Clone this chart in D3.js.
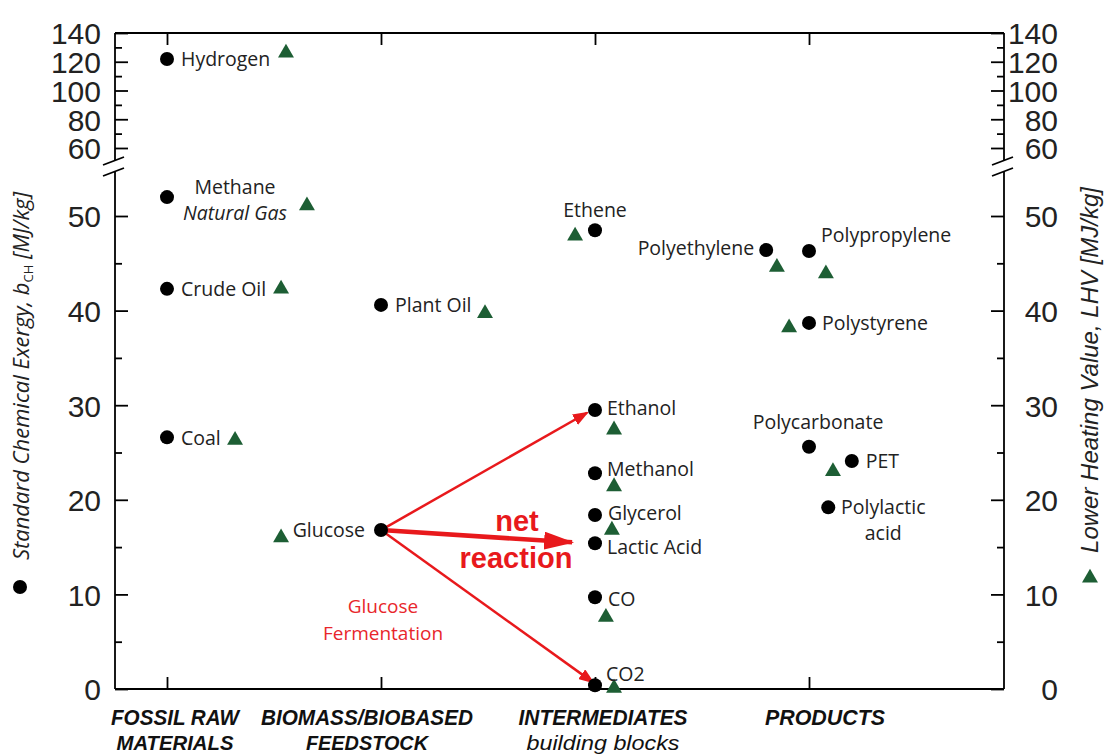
<!DOCTYPE html>
<html><head><meta charset="utf-8">
<script src="https://cdn.jsdelivr.net/npm/d3@7"></script>
<style>body{margin:0;background:#fff}</style>
</head><body><svg id="c" width="1105" height="756"></svg>
<script>
// ---------- data ----------
const catLine1 = ["FOSSIL RAW", "BIOMASS/BIOBASED", "INTERMEDIATES", "PRODUCTS"];
const catLine2 = ["MATERIALS", "FEEDSTOCK", "building blocks", ""];
const catPos = [1, 2, 3, 4];

const names = ["Hydrogen","Methane","Crude Oil","Coal","Glucose","Plant Oil","Ethene","Ethanol","Methanol","Glycerol","Lactic Acid","CO","CO2","Polyethylene","Polypropylene","Polystyrene","Polycarbonate","PET","Polylactic acid"];
const exergyX = [1,1,1,1,2,2,3,3,3,3,3,3,3,3.80,4.0,4.0,4.0,4.20,4.09];
const exergy  = [121.9,52.0,42.3,26.6,16.8,40.6,48.5,29.5,22.8,18.4,15.4,9.7,0.4,46.4,46.3,38.7,25.6,24.1,19.2];
const lhvX = [1.556,1.654,1.533,1.318,1.533,2.486,2.907,3.089,3.089,3.079,null,3.051,3.089,3.850,4.079,3.907,null,4.112,null];
const lhv  = [126.1,51.1,42.3,26.3,16.0,39.7,47.9,27.4,21.4,16.8,null,7.6,0.1,44.6,43.9,38.2,null,23.0,null];

const lowMajor = [0,10,20,30,40,50];
const lowMinor = [5,15,25,35,45];
const highMajor = [60,80,100,120,140];
const highMinor = [70,90,110,130];

// arrows: from Glucose toward products of fermentation
const arrowFrom = [[2,16.8],[2,16.8],[2,16.8]];
const arrowTo   = [[2.963,29.2],[2.893,15.5],[2.991,0.7]];
const arrowBold = [false,true,false];

// ---------- layout ----------
const L = 115, R = 1004, T = 33, B = 689;
const svg = d3.select("#c");
const x = d3.scaleLinear().domain([1 - 52/214, 4 + 195/214]).range([L, R]);
const yLow = d3.scaleLinear().domain([0, 55]).range([B, B - 55*9.46]);
const yHigh = d3.scaleLinear().domain([55, 140]).range([T + 85*1.4375, T]);
const y = v => v <= 55 ? yLow(v) : yHigh(v);

const RED = "#e8191c", GREEN = "#1d5e34", INK = "#000";
const tickFont = "'Liberation Sans', Arial, sans-serif";
const labFont = "'Open Sans', sans-serif";

// ---------- frame ----------
const frame = svg.append("g").attr("stroke", INK).attr("stroke-width", 1.8).attr("fill","none");
frame.append("line").attr("x1", L).attr("x2", R).attr("y1", T).attr("y2", T);
frame.append("line").attr("x1", L).attr("x2", R).attr("y1", B).attr("y2", B);
[L, R].forEach(ax => {
  frame.append("line").attr("x1", ax).attr("x2", ax).attr("y1", T).attr("y2", 160);
  frame.append("line").attr("x1", ax).attr("x2", ax).attr("y1", 171).attr("y2", B);
  [161, 172].forEach(yb => {
    frame.append("line").attr("x1", ax-12).attr("x2", ax+9).attr("y1", yb+4).attr("y2", yb-4);
  });
});

function styleAxis(g, anchor, dx) {
  g.select(".domain").remove();
  g.selectAll(".tick line").attr("stroke", INK).attr("stroke-width", 1.8);
  g.selectAll(".tick text").attr("font-family", tickFont).attr("font-size", 30)
    .attr("fill", "#222").attr("text-anchor", anchor).attr("x", dx).attr("dy", "0.36em");
}
function axisPair(scale, major, minor, side, tx, anchor, dx) {
  const mk = side === "left" ? d3.axisLeft : d3.axisRight;
  svg.append("g").attr("transform", `translate(${tx},0)`)
    .call(mk(scale).tickValues(major).tickSizeInner(-13).tickSizeOuter(0))
    .call(g => styleAxis(g, anchor, dx));
  svg.append("g").attr("transform", `translate(${tx},0)`)
    .call(mk(scale).tickValues(minor).tickSizeInner(-7).tickSizeOuter(0).tickFormat(""))
    .call(g => styleAxis(g, anchor, dx));
}
axisPair(yLow, lowMajor, lowMinor, "left", L, "end", -14);
axisPair(yHigh, highMajor, highMinor, "left", L, "end", -14);
axisPair(yLow, lowMajor, lowMinor, "right", R, "end", 54);
axisPair(yHigh, highMajor, highMinor, "right", R, "end", 54);

// x ticks bottom & top
svg.append("g").attr("transform", `translate(0,${B})`)
  .call(d3.axisBottom(x).tickValues(catPos).tickSizeInner(-12).tickSizeOuter(0).tickFormat(""))
  .call(g => styleAxis(g, "middle", 0));
svg.append("g").attr("transform", `translate(0,${T})`)
  .call(d3.axisTop(x).tickValues(catPos).tickSizeInner(-12).tickSizeOuter(0).tickFormat(""))
  .call(g => styleAxis(g, "middle", 0));

// category labels (condensed italic look)
const catDx = [8, -14, 8, 16];
const w1 = [128, 212, 169, 120], w2 = [117, 122, 153, 0];
const cl = svg.append("g").attr("font-family", tickFont).attr("font-style", "italic")
  .attr("fill", "#111").attr("text-anchor", "middle");
catPos.forEach((c, i) => {
  cl.append("text").attr("x", x(c) + catDx[i]).attr("y", 725)
    .attr("font-size", 22).attr("font-weight", "bold")
    .attr("textLength", w1[i]).attr("lengthAdjust", "spacingAndGlyphs").text(catLine1[i]);
  if (catLine2[i]) {
    const lower = catLine2[i] === catLine2[i].toLowerCase();
    cl.append("text").attr("x", x(c) + catDx[i]).attr("y", 750)
      .attr("font-size", 21).attr("font-weight", lower ? "normal" : "bold")
      .attr("textLength", w2[i]).attr("lengthAdjust", "spacingAndGlyphs").text(catLine2[i]);
  }
});

// axis titles + legend markers
const lt = svg.append("text").attr("transform", "translate(29,376) rotate(-90)")
  .attr("text-anchor", "middle").attr("font-family", labFont).attr("font-style", "italic")
  .attr("font-size", 22).attr("fill", "#222");
lt.append("tspan").text("Standard Chemical Exergy, b");
lt.append("tspan").attr("font-size", 13).attr("font-style", "normal").attr("dy", 4).text("CH");
lt.append("tspan").attr("dy", -4).text(" [MJ/kg]");
svg.append("circle").attr("cx", 20).attr("cy", 587).attr("r", 7).attr("fill", INK);

svg.append("text").attr("transform", "translate(1098,370) rotate(-90)")
  .attr("text-anchor", "middle").attr("font-family", tickFont).attr("font-style", "italic")
  .attr("font-size", 24).attr("fill", "#222").text("Lower Heating Value, LHV [MJ/kg]");
svg.append("path").attr("transform", "translate(1090,578)")
  .attr("d", d3.symbol(d3.symbolTriangle, 110)()).attr("fill", GREEN);

// ---------- arrows ----------
const defs = svg.append("defs");
defs.append("marker").attr("id", "ah").attr("markerUnits", "userSpaceOnUse")
  .attr("markerWidth", 16).attr("markerHeight", 12).attr("refX", 14).attr("refY", 6)
  .attr("orient", "auto").append("path").attr("d", "M0,0 L16,6 L0,12 Z").attr("fill", RED);
defs.append("marker").attr("id", "ahb").attr("markerUnits", "userSpaceOnUse")
  .attr("markerWidth", 30).attr("markerHeight", 18).attr("refX", 28).attr("refY", 9)
  .attr("orient", "auto").append("path").attr("d", "M0,0 L30,9 L0,18 Z").attr("fill", RED);
arrowFrom.forEach((f, i) => {
  svg.append("line").attr("x1", x(f[0])).attr("y1", y(f[1]))
    .attr("x2", x(arrowTo[i][0])).attr("y2", y(arrowTo[i][1]))
    .attr("stroke", RED).attr("stroke-width", arrowBold[i] ? 4.5 : 2.5)
    .attr("marker-end", arrowBold[i] ? "url(#ahb)" : "url(#ah)");
});
svg.append("text").attr("x", 517).attr("y", 531).attr("text-anchor", "middle")
  .attr("font-family", tickFont).attr("font-weight", "bold").attr("font-size", 29)
  .attr("fill", RED).text("net");
svg.append("text").attr("x", 516).attr("y", 568).attr("text-anchor", "middle")
  .attr("font-family", tickFont).attr("font-weight", "bold").attr("font-size", 29)
  .attr("fill", RED).text("reaction");
const gf = svg.append("g").attr("font-family", labFont).attr("font-size", 19)
  .attr("fill", "#e8262b").attr("text-anchor", "middle");
gf.append("text").attr("x", 383).attr("y", 613).text("Glucose");
gf.append("text").attr("x", 383).attr("y", 640).text("Fermentation");

// ---------- markers ----------
names.forEach((n, i) => {
  if (lhv[i] != null) {
    svg.append("path").attr("transform", `translate(${x(lhvX[i])},${y(lhv[i])})`)
      .attr("d", d3.symbol(d3.symbolTriangle, 110)()).attr("fill", GREEN);
  }
});
names.forEach((n, i) => {
  svg.append("circle").attr("cx", x(exergyX[i])).attr("cy", y(exergy[i])).attr("r", 7).attr("fill", INK);
});

// ---------- point labels ----------
const labelLayout = {
  "Hydrogen": ["start", 14, 0],
  "Methane": ["middle", 68, -10, ["Methane", "Natural Gas"]],
  "Crude Oil": ["start", 14, 0],
  "Coal": ["start", 14, 1],
  "Glucose": ["end", -16, 0],
  "Plant Oil": ["start", 14, 0],
  "Ethene": ["middle", 0, -20],
  "Ethanol": ["start", 12, -2],
  "Methanol": ["start", 12, -4],
  "Glycerol": ["start", 13, -2],
  "Lactic Acid": ["start", 12, 4],
  "CO": ["start", 13, 2],
  "CO2": ["start", 11, -11],
  "Polyethylene": ["end", -12, -2],
  "Polypropylene": ["start", 12, -16],
  "Polystyrene": ["start", 13, 0],
  "Polycarbonate": ["middle", 9, -25],
  "PET": ["start", 14, 0],
  "Polylactic acid": ["middle", 55, 0, ["Polylactic", "acid"]]
};
const lg = svg.append("g").attr("font-family", labFont).attr("font-size", 19.5).attr("fill", "#222");
names.forEach((n, i) => {
  const [anchor, dx, dy, lines] = labelLayout[n];
  const cx = x(exergyX[i]) + dx, cy = y(exergy[i]) + dy;
  (lines || [n]).forEach((t, k) => {
    lg.append("text").attr("x", cx).attr("y", cy + k * 26).attr("dy", "0.35em")
      .attr("text-anchor", anchor)
      .attr("font-style", (n === "Methane" && k === 1) ? "italic" : "normal")
      .text(t);
  });
});
</script></body></html>
